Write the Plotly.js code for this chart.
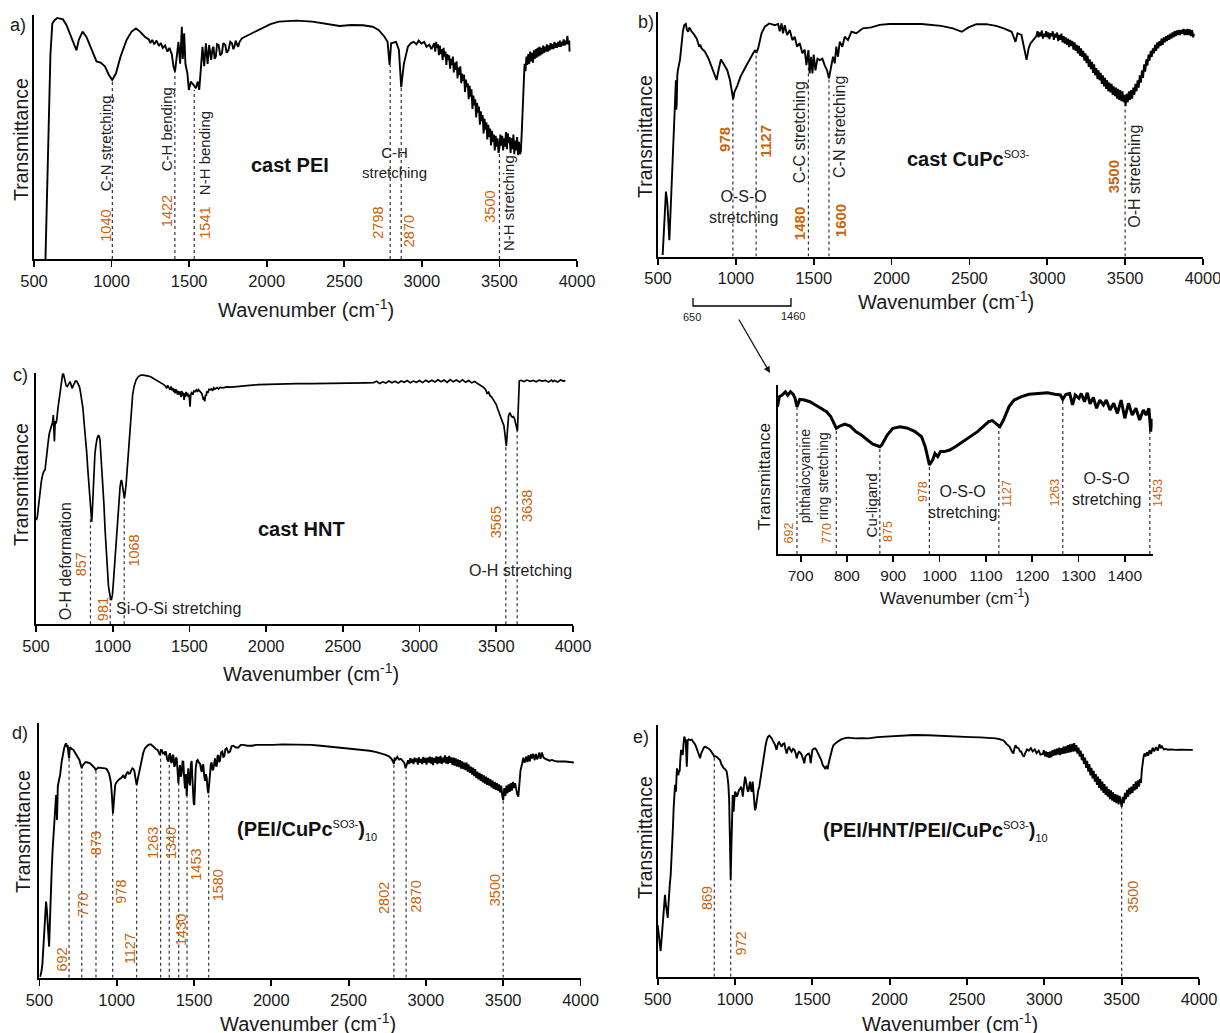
<!DOCTYPE html>
<html><head><meta charset="utf-8">
<script src="https://cdn.plot.ly/plotly-3.0.1.min.js"></script>
<style>html,body{margin:0;padding:0;background:#fff}#chart{width:1220px;height:1033px}</style>
</head><body><div id="chart"></div>
<script>
// ---------------- DATA: [wavenumber, transmittance (0 = axis, 100 = top)] ----------------
// (a) cast PEI
const A_SPECTRUM=[[574,0],[590,40],[606,84],[618,96.5],[634,98],[650,98.8],[666,98.6],[687,98.2],[709,95.9],[741,91],[763,87],[774,85.5],[789,89.8],[813,93.2],[838,91],[871,85.7],[903,81],[929,80.5],[957,79],[983,75.4],[1004,73.4],[1028,76],[1058,83],[1097,89.8],[1129,93.2],[1157,94.5],[1183,93.2],[1216,91],[1240,90],[1250,88.5],[1262,89.8],[1275,88],[1290,89.5],[1305,87.3],[1318,88.5],[1330,86.5],[1345,87.5],[1360,85],[1373,86.5],[1388,84],[1399,79],[1409,76.8],[1420,83],[1431,89],[1442,80],[1453,95.2],[1459,82],[1468,92.5],[1476,80],[1489,76],[1498,69.3],[1511,72.7],[1528,71.4],[1543,70],[1556,72.7],[1565,69.3],[1575,77.5],[1586,87],[1597,79],[1608,88.4],[1619,80],[1629,87.7],[1642,81.6],[1650,86],[1657,87],[1664,82],[1672,83],[1680,88],[1690,87.7],[1700,83.5],[1711,84.3],[1720,88.5],[1733,87.7],[1742,84.5],[1754,85.7],[1765,89],[1776,88.4],[1785,86],[1792,87],[1800,89.5],[1808,88],[1816,87],[1825,89],[1841,90.5],[1873,91.5],[1905,92.5],[1938,93.6],[1981,95.2],[2024,96.3],[2078,97.3],[2193,97.7],[2294,97.3],[2394,96.3],[2470,95.5],[2545,95.9],[2621,95.8],[2683,95.2],[2721,93.9],[2759,91.1],[2779,89],[2792,79.5],[2802,88.4],[2834,89],[2852,85.7],[2867,70.4],[2884,80],[2910,87],[2930,88.5],[2947,89],[2965,88],[2980,89.5],[2997,88.3],[3015,89],[3030,87],[3048,87.8],[3062,86],
[3080,88.5],[3086,85],[3092,89],[3098,86.5],[3104,88],[3110,83.5],[3116,87.5],[3122,84],[3128,86],[3134,81.5],[3140,86.5],[3146,83],[3152,85],[3158,79.5],[3164,84],[3170,81.5],[3176,83.5],[3182,78],[3188,82],[3194,79.5],[3200,83],[3206,76.5],[3212,80.5],[3218,77.5],[3224,81],[3230,74],[3236,78.5],[3242,75.5],[3248,79],[3254,72],[3260,76],[3266,73],[3272,75.5],[3278,68.5],[3284,73.5],[3290,70.5],[3296,72],[3302,65.5],[3308,71],[3314,66.5],[3320,69.5],[3326,61.5],[3332,67],[3338,63],[3344,65.5],[3350,58],[3356,64],[3362,60],[3368,62.5],[3374,55],[3380,60.5],[3386,56.5],[3392,59],[3398,51.5],[3404,57.5],[3410,53],[3416,56],[3422,49],[3428,55],[3434,50],[3440,53.5],[3446,46.5],[3452,52.5],[3458,48],[3464,51],[3470,44.5],[3476,50.5],[3482,46],[3488,49.5],[3494,43.5],[3500,45.5],[3506,51],[3512,46.5],[3518,50.5],[3524,44.5],[3530,49.5],[3536,46],[3542,52],[3548,45],[3554,51.5],[3560,47.5],[3566,50],[3572,43.5],[3578,49.5],[3584,45],[3590,51],[3596,43],[3602,48.5],[3608,44.5],[3614,50],[3620,42.5],[3626,48],[3632,43],[3638,44],[3644,52],[3650,62],[3656,72],[3662,80],
[3668,77],[3674,83],[3680,79.5],[3686,84],[3692,80],[3698,85],[3704,81],[3710,84.5],[3716,80.5],[3722,85.5],[3728,82],[3734,86],[3740,82.5],[3746,86.5],[3752,83],[3758,87],[3764,83.5],[3770,86.5],[3776,84],[3782,87.5],[3788,84.5],[3794,87],[3800,85],[3806,88],[3812,85],[3818,87.5],[3824,85.5],[3830,88.5],[3836,86],[3842,88],[3848,86],[3854,89],[3860,86.5],[3866,88.5],[3872,86.5],[3878,89],[3884,87],[3890,89.5],[3896,87],[3902,89],[3908,87.5],[3914,90],[3920,87.5],[3926,89.5],[3932,88],[3938,91.5],[3944,88],[3950,89.5],[3952,85]];
const A_PEAK_X=[1005,1408,1533,2796,2867,3500];
const A_PEAK_TOP=[73.4,76.8,69.3,79.5,70.4,45.5];
const A_PEAK_LABELS=['1040','1422','1541','2798','2870','3500'];

// (b) cast CuPc(SO3-)
const B_SPECTRUM=[[530,0.6],[540,15],[551,26.5],[560,22],[567,12],[573,6.7],[581,19],[594,42],[607,59.8],[612,70],[615,72],[617,60],[620,62],[624,74],[628,76.2],[641,80.3],[652,88.4],[660,92],[669,94.5],[679,95],[686,92.5],[694,91.8],[700,93.5],[705,93.2],[715,92],[726,91.2],[748,89.1],[765,85.7],[772,86.5],[780,85],[801,83.7],[823,81],[844,77.6],[865,73.5],[876,72.1],[891,76.9],[904,80.5],[919,78.9],[944,76.2],[962,72.1],[976,66],[983,64.2],[990,67],[994,68],[1000,68.5],[1009,69.7],[1030,73.5],[1058,76.9],[1085,80.3],[1111,83],[1125,84.3],[1132,83.2],[1143,85],[1165,91.2],[1186,93.9],[1214,95.2],[1250,94.5],[1271,95],[1282,92],[1293,95.2],[1303,91.2],[1314,94.5],[1329,90.5],[1346,92.5],[1363,88.4],[1378,89.8],[1393,85.7],[1410,87.2],[1427,83],[1442,84.5],[1453,78.2],[1460,83],[1466,84.3],[1474,74.8],[1483,81.6],[1492,74.8],[1500,82.5],[1511,76],[1524,80.8],[1539,80.2],[1556,80.8],[1571,78],[1586,76],[1598,72.8],[1606,76],[1613,78.9],[1624,81.6],[1635,78.9],[1645,85.7],[1656,81.6],[1667,87.7],[1684,85.7],[1699,89.8],[1720,88.4],[1742,91.8],[1774,91.2],[1816,93.2],[1870,93.6],[1923,94.6],[1987,95],[2066,94.9],[2192,95],[2318,94.2],[2394,93.2],[2451,91.8],[2494,93.6],[2545,94.9],[2608,94.9],[2671,94.2],[2721,93.2],[2771,91.8],[2796,87.7],[2809,91.2],[2834,90.5],[2867,80.3],[2880,85],[2892,87],[2922,89.1],
[2930,90],[2937,92],[2944,89.5],[2951,91.5],[2958,90],[2965,92.3],[2972,89],[2979,91],[2986,89.8],[2993,92],[3000,89.5],[3007,91.5],[3014,88.8],[3021,91.2],[3028,90],[3035,92],[3042,88.5],[3049,91],[3056,89.5],[3063,91.5],[3070,88],[3077,90.5],[3084,88.5],[3091,91],[3098,87.5],[3105,90],[3112,87],[3119,89.5],[3126,86.5],[3133,89],[3140,85.5],[3147,88.5],[3154,86],[3161,88],[3168,84.5],[3175,87.5],[3182,84],[3189,86.5],[3196,83],[3203,86],[3210,82],[3217,85],[3224,81.5],[3231,84],[3238,80],[3245,83],[3252,79],[3259,82],[3266,77.5],[3273,80.5],[3280,76.5],[3287,79.5],[3294,75],[3301,78.5],[3308,74],[3315,77],[3322,72.5],[3329,76],[3336,72],[3343,75],[3350,70.5],[3357,74],[3364,69.5],[3371,73],[3378,68.5],[3385,72],[3392,67.5],[3399,71],[3406,67],[3413,70.5],[3420,66],[3427,69.5],[3434,65.5],[3441,69],[3448,64.5],[3455,68.5],[3462,64],[3469,68],[3476,63.5],[3483,67.5],[3490,63],[3497,66],[3503,61.5],[3510,66.5],[3517,63],[3524,67.5],[3531,64],[3538,68],[3545,64.5],[3552,69],[3559,66],[3566,70.5],[3573,67.5],[3580,72],[3587,69],[3594,74],[3601,71],[3608,76],[3615,73],[3622,78.5],[3629,75.5],[3636,80.5],[3643,78],[3650,82.5],[3657,80],[3664,84],[3671,81.5],[3678,85],[3685,83],[3692,86.5],[3699,84],[3706,87.5],[3713,85],[3720,88],[3727,86],[3734,89],[3741,86.5],[3748,89.5],[3755,87.5],[3762,90],[3769,88],[3776,90.5],[3783,88.5],[3790,91],[3797,89],[3804,91.5],[3811,89.5],[3818,92],[3825,90],[3832,92.3],[3839,90.5],[3846,92.5],[3853,90.5],[3860,92.5],[3867,91],[3874,93],[3881,90.5],[3888,92.8],[3895,90.5],[3902,93],[3909,90.5],[3916,92.8],[3923,90],[3930,92.5],[3937,89.5],[3942,91]];
const B_PEAK_X=[981,1130,1466,1598,3500];
const B_PEAK_TOP=[64.2,83.7,78.5,72.8,62.5];
const B_PEAK_LABELS=['978','1127','1480','1600','3500'];

// (c) cast HNT
const C_SPECTRUM=[[502,41.5],[509,42.9],[518,48],[526,52.9],[535,57],[543,59.5],[551,61],[559,61.5],[566,66],[574,70.1],[581,73.5],[587,76.1],[595,77.5],[602,78.8],[608,80.5],[613,83.4],[617,79],[620,72.8],[623,78],[626,81],[630,80],[635,81.4],[643,86],[652,90],[660,94.5],[667,98],[673,99.5],[678,100],[685,98.5],[691,96.7],[697,95],[704,94.7],[713,96],[722,96.7],[728,95.5],[735,94],[742,95],[750,96],[757,96.9],[765,96.9],[774,96],[783,94.7],[790,92.5],[798,90],[806,86],[813,80.7],[822,75],[830,68.8],[838,61.5],[846,54.2],[852,49],[857,44.9],[863,40.9],[867,45],[870,50.2],[874,57],[878,63.5],[884,68],[891,71.4],[898,74],[907,75.4],[912,74.8],[917,73.4],[922,69],[928,63.5],[935,56],[943,47.5],[950,38],[957,29],[962,23],[967,18.3],[972,15.5],[978,13],[983,10.5],[987,9.7],[992,10],[998,11.7],[1003,15.5],[1009,21],[1015,27.5],[1022,34.3],[1030,41],[1037,47.5],[1043,52],[1048,54.8],[1053,56.8],[1057,57.5],[1061,56.3],[1065,54.2],[1070,51.5],[1076,50.2],[1081,52.5],[1087,55.5],[1094,61.5],[1102,68.8],[1110,77.5],[1120,86.1],[1130,91.5],[1139,94.7],[1152,97.3],[1167,98.7],[1185,99.3],[1200,99.3],[1217,99.2],[1233,98.9],[1250,98.5],[1265,98],[1280,97.5],[1298,96.7],[1315,96.3],[1330,95.6],[1342,95],[1352,94],[1358,95.2],[1363,94.6],[1368,93.5],[1374,93.4],[1380,94.8],[1386,93.2],[1391,94.2],[1398,92.5],[1403,93.8],[1407,92],[1412,93.6],[1417,93],[1422,91.5],[1428,93],[1435,91.4],[1440,92.8],[1445,90.5],[1450,93],[1455,91],[1460,92.3],[1465,89.4],[1470,92],[1474,90.5],[1478,92.6],[1484,91],[1488,92.2],[1493,90.5],[1498,91.5],[1504,86.7],[1509,91.8],[1515,92.3],[1522,91.5],[1530,93],[1537,92.7],[1545,93.4],[1552,92.6],[1559,93.5],[1566,93],[1573,92.7],[1580,92],[1585,91],[1591,89.4],[1596,90.5],[1600,88.8],[1605,91.5],[1610,91],[1613,92.8],[1620,92.2],[1627,93.6],[1635,93.4],[1643,93.8],[1651,93],[1659,94.2],[1667,93.7],[1680,94.3],[1690,93.8],[1700,94.4],[1720,94.2],[1743,94.6],[1770,94.5],[1809,94.7],[1840,95],[1874,95.1],[1950,95.5],[2000,95.6],[2100,95.8],[2200,95.9],[2300,95.9],[2400,95.9],[2500,95.9],[2600,96],[2650,96.2],
[2700,96.3],[2720,96.8],[2740,95.9],[2760,96.6],[2780,96.1],[2800,96.9],[2820,96.2],[2840,96.8],[2860,96.1],[2880,96.9],[2900,96.4],[2920,97.1],[2940,96.2],[2960,96.9],[2980,96.4],[3000,97.1],[3020,96.3],[3040,97.2],[3060,96.5],[3080,97.2],[3100,96.5],[3120,97.4],[3140,96.6],[3160,97.3],[3180,96.4],[3200,97.5],[3220,96.6],[3240,97.3],[3260,96.5],[3280,97.4],[3300,96.4],[3320,97.1],[3340,96.2],[3360,96.7],[3380,95.8],[3400,95.2],
[3415,94.5],[3430,93.6],[3440,92],[3450,92.5],[3460,91],[3470,90.5],[3480,89.5],[3490,88.3],[3500,87.5],[3510,85.7],[3520,84],[3528,82.5],[3535,81],[3545,80],[3550,79],[3556,76],[3560,73.7],[3565,71],[3569,74],[3572,77.5],[3576,81],[3580,83],[3585,83.8],[3590,84.3],[3597,83],[3605,82.5],[3612,82.8],[3620,81.7],[3626,80],[3630,78.5],[3634,77.5],[3638,77],[3642,84],[3645,90],[3650,96.9],[3660,97.2],[3680,96.7],[3700,97.3],[3720,96.8],[3740,97.2],[3760,96.6],[3780,97.3],[3800,96.9],[3820,97.2],[3840,96.5],[3860,97.3],[3870,96.7],[3880,97.1],[3900,96.5],[3920,97.3],[3940,96.8],[3950,97.1]];
const C_PEAK_X=[855,984,1075,3562,3636];
const C_PEAK_TOP=[42,10,50.5,71.5,77];
const C_PEAK_LABELS=['857','981','1068','3565','3638'];

// inset: cast CuPc(SO3-), 650-1460 cm-1
const I_SPECTRUM=[[650,87.2],[654,93.1],[660,94],[667,96],[672,94],[678,96],[684,94.5],[688,92],[692,87.2],[698,91.5],[708,91.1],[720,90.1],[732,88.2],[744,86.2],[756,84.2],[765,81.3],[772,77.3],[777,74.4],[784,75.6],[795,76.9],[807,75.7],[819,72.4],[831,70.4],[843,67.5],[855,65.1],[867,63.9],[871,63.5],[875,64.5],[887,70.4],[899,74.4],[915,75.3],[931,74.4],[947,72.4],[961,69.4],[969,63.5],[974,57.6],[978,52.7],[985,55.6],[990,59.5],[996,57.6],[1002,60.6],[1010,60.6],[1022,61.5],[1034,63.5],[1050,66.5],[1066,69.4],[1082,72.4],[1094,75.3],[1106,78.3],[1114,78.9],[1122,77.3],[1130,75.3],[1138,79.3],[1150,87.2],[1161,91.1],[1177,93.1],[1193,94.5],[1217,95],[1233,95.4],[1249,94.5],[1261,94.1],[1266,91.5],[1273,94.5],[1281,95],[1287,88.2],[1293,94.1],[1301,92.1],[1306,95],[1313,90.1],[1319,95.4],[1325,88.8],[1332,92.7],[1339,86.2],[1346,91.1],[1354,88.2],[1360,91.1],[1368,85.2],[1376,89.2],[1384,83.2],[1392,91.1],[1400,80.3],[1408,89.2],[1416,82.2],[1424,86.2],[1432,79.3],[1440,85.2],[1446,82.2],[1452,86.2],[1456,72.4],[1460,80]];
const I_PEAK_X=[692,777,871,978,1128,1266,1454];
const I_PEAK_TOP=[87.2,74.4,63.5,52.7,75.5,91.5,73];
const I_PEAK_LABELS=['692','770','875','978','1127','1263','1453'];

// (d) (PEI/CuPc(SO3-))10
const D_SPECTRUM=[[504,0.4],[512,2],[519,5],[526,12],[532,20.7],[538,27],[543,29.9],[548,27],[554,20],[559,14],[563,12.2],[568,22],[573,33.8],[580,43],[586,50.9],[592,56],[597,61.3],[603,66],[608,71.8],[611,68],[614,62],[617,70],[619,75.1],[626,77.5],[634,79.7],[644,84.9],[652,88],[660,90.2],[667,91.5],[672,92.1],[678,91],[683,91.3],[688,88],[692,86.2],[695,89],[698,90.6],[708,90],[720,89.5],[730,88.5],[741,87.5],[750,86.7],[759,85.6],[768,83.5],[774,82.3],[780,83.5],[789,84.3],[798,84.7],[806,84.7],[818,84.5],[828,84.3],[840,83.5],[849,83],[857,82.5],[864,81.7],[872,82.3],[881,82.6],[895,82.5],[914,82.5],[925,82.3],[935,82],[943,81.2],[950,80.3],[957,78.5],[963,76.4],[968,72.5],[972,69.2],[976,64.6],[980,68],[985,73.5],[990,75.5],[994,76.4],[1002,77.2],[1011,77.7],[1020,78.2],[1028,78.4],[1036,79],[1043,79.7],[1048,78.8],[1054,78.4],[1062,80],[1071,81],[1078,80.2],[1086,80.3],[1094,81.5],[1101,82.3],[1108,82],[1114,81.3],[1121,78.5],[1129,75.8],[1136,78],[1144,80.3],[1153,83.5],[1162,86.2],[1172,88.5],[1183,90.2],[1194,91],[1205,91.5],[1214,91.7],[1222,91.7],[1233,91.1],[1244,90.4],[1255,89.8],[1265,89.5],[1272,88.5],[1280,87.5],[1286,89.5],[1291,89.5],[1300,88.2],[1308,88.5],[1313,87.5],[1318,89],[1326,86],[1334,84.9],[1340,87.5],[1345,88.2],[1350,85],[1356,84.4],[1361,87.2],[1366,87.6],[1372,83],[1377,83.4],[1383,86.5],[1388,86.2],[1393,82],[1399,76.4],[1404,81],[1409,83.6],[1415,79],[1420,80.3],[1426,85],[1431,84.9],[1437,78],[1442,74.4],[1448,80],[1453,71.2],[1458,78],[1463,82.3],[1469,77],[1474,75.6],[1480,84],[1485,85.2],[1489,79],[1493,73.1],[1498,68.5],[1502,67.9],[1507,76],[1511,82.3],[1518,85.2],[1524,85.6],[1532,84.5],[1539,84.1],[1545,82],[1550,80.9],[1555,83.5],[1560,83.6],[1566,79.5],[1571,77.4],[1576,80],[1582,78.7],[1588,74],[1593,72.5],[1598,76],[1603,80.6],[1609,84],[1614,84.6],[1620,81.5],[1625,82],[1631,86],[1636,86.2],[1641,83.5],[1647,83],[1652,87],[1657,87.5],[1663,85],[1668,85.2],[1675,88.5],[1683,88.9],[1690,86.8],[1696,87],[1703,89.8],[1711,90.2],[1722,88.5],[1733,88.9],[1743,91],[1754,91.2],[1770,90.5],[1787,90.5],[1803,91.5],[1819,91.5],[1845,91.2],[1873,91.2],[1905,91.5],[1937,91.5],[1975,91.4],[2013,91.5],[2070,91.7],[2132,91.7],[2195,91.6],[2258,91.5],[2320,91.2],[2385,90.8],[2450,90.5],[2511,90.2],[2575,89.7],[2637,89.2],[2680,88.7],[2713,88.2],[2740,87.6],[2763,86.9],[2778,86],[2788,84.9],[2793,84],[2798,86.5],[2805,85.8],[2815,86.8],[2826,85.7],[2838,86],[2851,84.9],[2860,84.5],[2869,82.3],[2878,84],
[2885,85.5],[2892,84],[2899,86.3],[2906,84.5],[2913,86],[2920,84],[2927,86.5],[2934,84.8],[2941,86.2],[2948,83.8],[2955,86.6],[2962,84.5],[2969,86],[2976,84],[2983,86.8],[2990,84.5],[2997,86.4],[3004,83.8],[3011,86.5],[3018,84.6],[3025,86.9],[3032,84.2],[3039,86.6],[3046,83.6],[3053,86.4],[3060,84.5],[3067,87],[3074,84],[3081,86.8],[3088,84.4],[3095,87.2],[3102,84],[3109,86.5],[3116,84.6],[3123,87.4],[3130,84.2],[3137,86.8],[3144,84],[3151,87.2],[3158,84.5],[3165,86.6],[3172,83.6],[3179,86.5],[3186,83.4],[3193,86.2],[3200,83],[3207,85.8],[3214,82.8],[3221,85.5],[3228,82.2],[3235,85],[3242,82],[3249,84.5],[3256,81.6],[3263,84.5],[3270,81],[3277,83.8],[3284,80.5],[3291,83],[3298,79.8],[3305,82.6],[3312,79.2],[3319,82],[3326,78.5],[3333,81],[3340,78],[3347,80.5],[3354,77.4],[3361,80],[3368,76.8],[3375,79.5],[3382,76.3],[3389,79],[3396,75.8],[3403,78.5],[3410,75.5],[3417,78],[3424,74.8],[3431,77.5],[3438,74.2],[3445,77],[3452,73.8],[3459,76.5],[3466,73.5],[3473,76],[3480,72.8],[3487,75.5],[3494,71.5],[3500,69.8],[3507,74.5],[3514,71.5],[3521,75.5],[3528,72.5],[3535,76],[3542,73],[3549,76.5],[3556,73.5],[3563,77],[3570,74.5],[3577,76.5],[3584,73.5],[3591,72],[3598,71.2],
[3605,76],[3612,81.5],[3623,84.3],[3630,86.5],[3638,84.5],[3649,86.9],[3656,84.8],[3664,87.5],[3672,85],[3680,87.8],[3687,86.2],[3695,88],[3703,85.5],[3712,88],[3719,85.8],[3725,86.6],[3733,88.5],[3741,86],[3750,88.5],[3760,86.6],[3770,86.1],[3785,85.8],[3800,85.3],[3815,85.6],[3830,85.2],[3851,85],[3875,85.1],[3901,85],[3930,84.8],[3957,84.6]];
const D_PEAK_X=[692,774,866,974,1129,1284,1340,1401,1455,1595,2793,2872,3500];
const D_PEAK_TOP=[86,82,81.7,65,76,88,85,77,71,72.5,85,82.3,70];
const D_PEAK_LABELS=['692','770','873','978','1127','1263','1340','1430','1453','1580','2802','2870','3500'];

// (e) (PEI/HNT/PEI/CuPc(SO3-))10
const E_SPECTRUM=[[500,20.5],[505,17],[509,15.2],[514,12],[519,10.2],[524,14],[530,19.2],[536,26],[541,29.8],[547,32.5],[552,29],[558,25],[562,23.5],[565,23.4],[569,28],[573,33.8],[578,36.5],[584,40.4],[590,47],[595,53.6],[599,60],[603,66.9],[608,72],[612,76.2],[615,74],[618,73.5],[622,80],[625,82.8],[630,80.5],[634,80.1],[638,82],[642,81.5],[646,86],[651,90.1],[656,89],[662,88.1],[667,92.5],[672,95.4],[677,94.5],[681,94],[684,90],[688,83.4],[691,88],[694,94],[700,94.3],[709,94],[720,94.2],[731,93.4],[742,92.3],[752,90.7],[762,89],[769,87.5],[774,86.8],[780,88.5],[789,90.1],[798,91],[806,91.4],[817,91.2],[828,90.7],[840,90],[849,89.4],[858,88.4],[866,87.4],[873,87.6],[881,87.4],[892,86.7],[903,86.1],[911,84.5],[918,83.4],[927,82.8],[935,82.5],[941,82.1],[946,81.5],[951,79.5],[957,76.2],[962,70],[966,60.3],[969,50],[972,38.4],[975,48],[978,56.3],[981,66],[985,72.2],[988,70],[991,65.6],[995,70],[1000,73.5],[1005,73],[1011,71.5],[1018,72.5],[1026,74.2],[1033,74.5],[1039,75.5],[1045,74],[1050,71.5],[1058,76],[1065,79.5],[1070,78],[1075,75.5],[1081,74],[1086,73.5],[1091,76.5],[1097,77.5],[1103,74.5],[1108,73.5],[1114,77.5],[1120,73],[1125,68.5],[1129,66.2],[1134,67],[1140,70.5],[1144,72.2],[1150,74],[1157,75.5],[1164,78.5],[1172,82.8],[1180,86],[1190,89.4],[1197,91.7],[1205,94],[1213,95.3],[1222,95.8],[1230,95.3],[1237,94.7],[1245,93.7],[1252,93],[1259,92.1],[1264,91],[1269,90.1],[1276,92.2],[1284,93.4],[1293,92.2],[1302,91.4],[1310,92.5],[1319,92.7],[1326,90.5],[1334,88.7],[1341,90.4],[1349,91.4],[1357,90.2],[1366,89.4],[1375,90.5],[1384,90.1],[1392,88.8],[1399,86.8],[1406,88.5],[1414,89.4],[1422,89],[1431,88.1],[1440,86.5],[1448,84.8],[1455,87.5],[1463,88.1],[1470,88.5],[1478,88.7],[1484,87.5],[1489,84.8],[1494,87.5],[1500,90.1],[1508,90.5],[1517,90.7],[1525,90.2],[1532,89.4],[1541,88.5],[1550,87.4],[1558,86],[1567,84.1],[1575,83.3],[1582,82.8],[1590,83.5],[1599,82.5],[1606,85],[1614,87.4],[1621,89.3],[1629,90.7],[1637,92],[1646,92.7],[1655,93],[1664,93.4],[1672,93.6],[1679,94],[1690,94.4],[1700,94.7],[1717,94.9],[1733,95],[1755,94.8],[1776,94.7],[1820,94.8],[1862,94.7],[1920,95.2],[1991,95.5],[2060,95.8],[2158,96],[2250,95.9],[2334,95.6],[2400,95.5],[2460,95.4],[2520,95.2],[2586,95.1],[2640,95],[2686,94.7],[2715,94.3],[2737,93.8],[2755,92.5],[2775,91.4],[2790,89.5],[2800,88.7],[2806,90.5],[2813,92],[2823,91],[2833,90.8],[2843,89.5],[2850,89.5],[2858,88.3],[2868,87.4],[2878,89],[2888,90.3],[2900,89.8],[2913,90.8],[2925,89.5],[2938,90.3],[2950,88.8],[2964,89.8],[2975,88.2],
[2990,88.5],[2997,90],[3004,87.5],[3011,89.5],[3018,87.3],[3025,89.2],[3032,87],[3039,89.5],[3046,87.2],[3053,90],[3060,87.8],[3067,90.3],[3074,88],[3081,90.6],[3088,88.2],[3095,91],[3102,88],[3109,90.8],[3116,88.5],[3123,91.4],[3130,88.6],[3137,91.5],[3144,88.8],[3151,92],[3158,89],[3165,92.3],[3172,89.2],[3179,92.5],[3186,89.4],[3193,92.8],[3200,89.5],[3207,92],[3214,88.6],[3221,91],[3228,87.5],[3235,89.8],[3242,86],[3249,88.5],[3256,84.5],[3263,87],[3270,83],[3277,85.8],[3284,81.5],[3291,84.5],[3298,80],[3305,83],[3312,78.8],[3319,81.8],[3326,77.5],[3333,80.5],[3340,76.2],[3347,79.5],[3354,75],[3361,78.5],[3368,74],[3375,77.5],[3382,73],[3389,76.5],[3396,72.2],[3403,75.5],[3410,71.5],[3417,74.5],[3424,70.5],[3431,74],[3438,70],[3445,73.2],[3452,69.5],[3459,72.5],[3466,69],[3473,72.2],[3480,68.5],[3487,71.8],[3494,68.2],[3500,67.5],[3507,71.5],[3514,69],[3521,73],[3528,70.5],[3535,74.2],[3542,71.5],[3549,75],[3556,72.5],[3563,75.5],[3570,73],[3577,76.5],[3584,74],[3591,77.5],[3598,74.5],[3605,78],[3612,75.5],[3619,78.5],[3625,77],[3630,82],[3636,85.5],[3642,87.5],[3648,88.7],
[3655,87.5],[3664,89.2],[3672,87.8],[3680,90],[3690,88.5],[3700,91],[3710,89.5],[3722,91.2],[3733,89.8],[3744,92.3],[3752,90.8],[3760,91.5],[3773,90.3],[3785,90.5],[3800,90.2],[3820,90.3],[3848,90.1],[3880,90.2],[3910,90],[3940,90.1],[3960,90.1]];
const E_PEAK_X=[866,972,3500];
const E_PEAK_TOP=[87.4,38.4,68];
const E_PEAK_LABELS=['869','972','3500'];

const MAIN_TICKS=[500,1000,1500,2000,2500,3000,3500,4000];
const INSET_TICKS=[700,800,900,1000,1100,1200,1300,1400];

// ---------------- LAYOUT / STYLE ----------------
const W=1220,H=1033;
const FONT='Arial, "Liberation Sans", sans-serif';
const ORANGE='#c8650f';
const INK='#1a1a1a';
function px(x){return x/W;}
function py(y){return 1-y/H;}

const panels=[
  {n:'',  s:A_SPECTRUM,px:A_PEAK_X,pt:A_PEAK_TOP,box:[34,577,15,259],range:[500,4000],ticks:MAIN_TICKS,lw:1.9,tf:16.5},
  {n:'2', s:B_SPECTRUM,px:B_PEAK_X,pt:B_PEAK_TOP,box:[658,1203,11.7,256.5],range:[500,4000],ticks:MAIN_TICKS,lw:1.9,tf:16.5},
  {n:'3', s:C_SPECTRUM,px:C_PEAK_X,pt:C_PEAK_TOP,box:[36,573,373.3,624.3],range:[500,4000],ticks:MAIN_TICKS,lw:1.7,tf:16.5},
  {n:'4', s:I_SPECTRUM,px:I_PEAK_X,pt:I_PEAK_TOP,box:[777.5,1152.6,385,554],range:[650,1460],ticks:INSET_TICKS,lw:3,tf:15.5},
  {n:'5', s:D_SPECTRUM,px:D_PEAK_X,pt:D_PEAK_TOP,box:[39.4,580.5,723.3,977.7],range:[500,4000],ticks:MAIN_TICKS,lw:1.9,tf:16.5},
  {n:'6', s:E_SPECTRUM,px:E_PEAK_X,pt:E_PEAK_TOP,box:[657.7,1199,725,976.7],range:[500,4000],ticks:MAIN_TICKS,lw:1.9,tf:16.5}
];

const traces=[];
const layout={width:W,height:H,margin:{l:0,r:0,t:0,b:0},paper_bgcolor:'#fff',plot_bgcolor:'rgba(0,0,0,0)',showlegend:false,annotations:[],shapes:[]};

panels.forEach(p=>{
  const xa='x'+p.n, ya='y'+p.n;
  const lx=[],ly=[];
  p.px.forEach((x,i)=>{lx.push(x,x,null);ly.push(0,p.pt[i],null);});
  traces.push({type:'scatter',mode:'lines',x:lx,y:ly,xaxis:xa,yaxis:ya,line:{color:'#333',width:1.2,dash:'dot'},hoverinfo:'skip'});
  traces.push({type:'scatter',mode:'lines',x:p.s.map(d=>d[0]),y:p.s.map(d=>d[1]),xaxis:xa,yaxis:ya,line:{color:'#000',width:p.lw},hoverinfo:'skip'});
  const [x0,x1,y0,y1]=p.box;
  layout['xaxis'+p.n]={domain:[px(x0),px(x1)],range:p.range,anchor:ya,showline:true,linecolor:'#000',linewidth:2,
    ticks:'outside',ticklen:6,tickwidth:1.8,tickcolor:'#000',tickvals:p.ticks,ticktext:p.ticks.map(String),ticklabeloverflow:'allow',
    tickfont:{family:FONT,size:p.tf,color:INK},showgrid:false,zeroline:false,fixedrange:true};
  layout['yaxis'+p.n]={domain:[py(y1),py(y0)],range:[0,100],anchor:xa,showline:true,linecolor:'#000',linewidth:2,
    ticks:'',showticklabels:false,showgrid:false,zeroline:false,fixedrange:true};
});

function lab(n,x,y,text,o){
  o=o||{};
  const a={xref:'x'+n,yref:'y'+n,x:x,y:y,text:text,showarrow:false,xanchor:'center',yanchor:'middle',
    textangle:o.h?0:-90,font:{family:FONT,size:o.s||15,color:o.c||'#222'}};
  if(o.xs) a.xshift=o.xs;
  layout.annotations.push(a);
}
function paperText(x,y,text,size,o){
  o=o||{};
  layout.annotations.push({xref:'paper',yref:'paper',x:px(x),y:py(y),text:text,showarrow:false,xanchor:'center',yanchor:'middle',
    textangle:o.rot||0,font:{family:FONT,size:size,color:o.c||INK}});
}
const O={c:ORANGE,s:14.5};
const OB={c:ORANGE,s:15};
// (a)
lab('',962,13.5,A_PEAK_LABELS[0],O);
lab('',1362,19.5,A_PEAK_LABELS[1],O);
lab('',1606,14.7,A_PEAK_LABELS[2],O);
lab('',2721,14.7,A_PEAK_LABELS[3],O);
lab('',2922,11.3,A_PEAK_LABELS[4],O);
lab('',3442,21.6,A_PEAK_LABELS[5],O);
lab('',958,47.5,'C-N stretching');
lab('',1355,53,'C-H bending');
lab('',1604,43.5,'N-H bending');
lab('',3563,23,'N-H stretching');
lab('',2822,39.7,'C-H<br>stretching',{h:1});
lab('',2151,38.6,'<b>cast PEI</b>',{h:1,s:20,c:'#111'});
// (b)
lab('2',930,48,'<b>'+B_PEAK_LABELS[0]+'</b>',OB);
lab('2',1188,47,'<b>'+B_PEAK_LABELS[1]+'</b>',OB);
lab('2',1410,13.5,'<b>'+B_PEAK_LABELS[2]+'</b>',OB);
lab('2',1670,14.5,'<b>'+B_PEAK_LABELS[3]+'</b>',OB);
lab('2',3426,32.6,'<b>'+B_PEAK_LABELS[4]+'</b>',OB);
lab('2',1410,50.6,'C-C stretching',{s:16});
lab('2',1670,53,'C-N stretching',{s:16});
lab('2',3564,32.6,'O-H stretching',{s:16});
lab('2',1052,20.4,'O-S-O<br>stretching',{h:1,s:16});
lab('2',2494,40,'<b>cast CuPc</b><sup><span style="font-size:11px">SO3-</span></sup>',{h:1,s:20,c:'#111'});
// (c)
lab('3',793,23.9,C_PEAK_LABELS[0],O);
lab('3',933,6.2,C_PEAK_LABELS[1],O);
lab('3',1136,29.2,C_PEAK_LABELS[2],O);
lab('3',3496,40.5,C_PEAK_LABELS[3],O);
lab('3',3699,47.1,C_PEAK_LABELS[4],O);
lab('3',691,25.2,'O-H deformation',{s:16});
lab('3',1431,6.2,'Si-O-Si stretching',{h:1,s:16});
lab('3',3656,21.6,'O-H stretching',{h:1,s:16});
lab('3',2231,38.1,'<b>cast HNT</b>',{h:1,s:20,c:'#111'});
// inset
const OI={c:ORANGE,s:12.5};
lab('4',675,12.2,I_PEAK_LABELS[0],OI);
lab('4',758,12.2,I_PEAK_LABELS[1],OI);
lab('4',887,13.2,I_PEAK_LABELS[2],OI);
lab('4',963,36.9,I_PEAK_LABELS[3],OI);
lab('4',1147,35.9,I_PEAK_LABELS[4],OI);
lab('4',1249,36.3,I_PEAK_LABELS[5],OI);
lab('4',1454,36,I_PEAK_LABELS[6],Object.assign({xs:8},OI));
lab('4',728,45.8,'phthalocyanine<br>ring stretching',{s:14});
lab('4',855,29,'Cu-ligand',{s:15});
lab('4',1050,31,'O-S-O<br>stretching',{h:1,s:16});
lab('4',1360,38.3,'O-S-O<br>stretching',{h:1,s:16});
// (d)
const dPos=[[644,7],[780,28.6],[871,52.8],[1028,33.8],[1091,11.5],[1239,52.8],[1356,52.8],[1415,18.7],[1511,44.3],[1657,36.4],[2733,31.2],[2935,31.9],[3449,34.5]];
dPos.forEach((q,i)=>lab('5',q[0],q[1],D_PEAK_LABELS[i],O));
lab('5',2233,58,'<b>(PEI/CuPc</b><sup><span style="font-size:11px">SO3-</span></sup><b>)</b><sub><span style="font-size:11px">10</span></sub>',{h:1,s:20,c:'#111'});
// (e)
lab('6',823,31.1,E_PEAK_LABELS[0],O);
lab('6',1039,13.2,E_PEAK_LABELS[1],O);
lab('6',3568,31.8,E_PEAK_LABELS[2],O);
lab('6',2296,57.6,'<b>(PEI/HNT/PEI/CuPc</b><sup><span style="font-size:11px">SO3-</span></sup><b>)</b><sub><span style="font-size:11px">10</span></sub>',{h:1,s:20,c:'#111'});

// axis titles and panel letters
const WN_TITLE='Wavenumber (cm<sup>-1</sup>)';
paperText(306,308,WN_TITLE,20);
paperText(946,301,WN_TITLE,20);
paperText(311,672,WN_TITLE,20);
paperText(308,1022,WN_TITLE,20);
paperText(950,1022,WN_TITLE,20);
paperText(955,597,WN_TITLE,17);
paperText(21,140,'Transmittance',19.5,{rot:-90});
paperText(645,137,'Transmittance',19.5,{rot:-90});
paperText(21,485,'Transmittance',19.5,{rot:-90});
paperText(23,832,'Transmittance',19.5,{rot:-90});
paperText(645,838,'Transmittance',19.5,{rot:-90});
paperText(764,477,'Transmittance',17,{rot:-90});
paperText(18,25,'a)',18);
paperText(646,22,'b)',18);
paperText(20,375,'c)',18);
paperText(20,733,'d)',18);
paperText(641,737,'e)',18);

// zoom bracket (650-1460) and arrow to the inset
layout.shapes.push({type:'path',xref:'paper',yref:'paper',
  path:`M ${px(693)},${py(298)} L ${px(693)},${py(306)} L ${px(791)},${py(306)} L ${px(791)},${py(298)}`,
  line:{color:'#000',width:1.3}});
paperText(692,317,'650',11);
paperText(793,316,'1460',11);
layout.annotations.push({xref:'paper',yref:'paper',x:px(770),y:py(373),ax:-32,ay:-55,showarrow:true,arrowhead:2,arrowsize:1,arrowwidth:1.3,arrowcolor:'#111',text:''});

Plotly.newPlot('chart',traces,layout,{staticPlot:true,displayModeBar:false});
</script></body></html>
